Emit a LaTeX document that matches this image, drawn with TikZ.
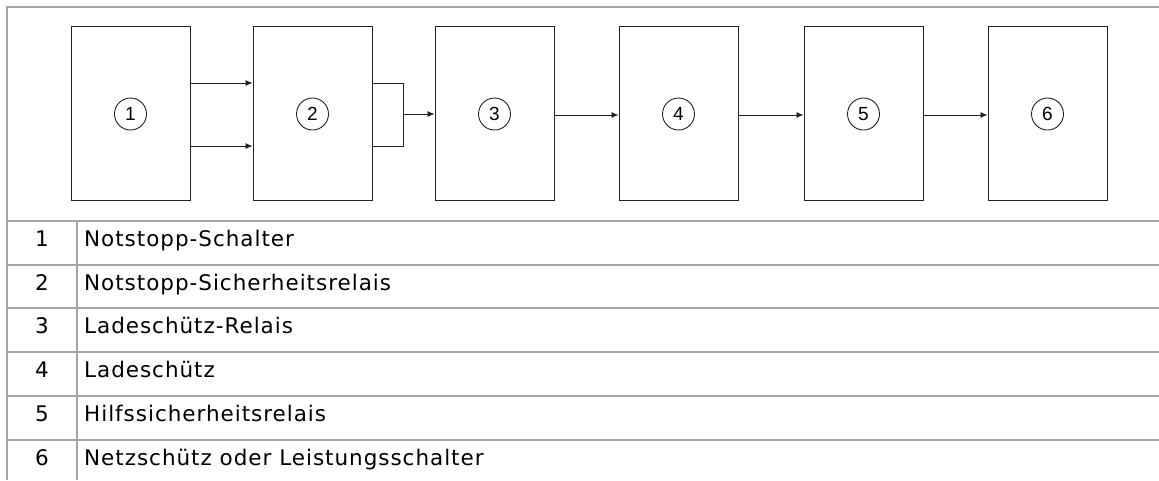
\documentclass[tikz,border=0pt]{standalone}
\usepackage{fontspec}
\setmainfont{DejaVu Sans}
\newfontfamily\circfont{Liberation Sans}
\newfontfamily\tabfont[LetterSpace=4.5]{DejaVu Sans}
\usetikzlibrary{arrows.meta,calc}
\definecolor{gridgrey}{HTML}{A4A4A4}
\definecolor{boxline}{HTML}{222222}
\tikzset{
  blockbox/.style={draw=boxline, line width=1pt, minimum width=119pt, minimum height=174pt, inner sep=0pt},
  numcirc/.style={draw=boxline, line width=0.9pt, circle, minimum size=32pt, inner sep=0pt, font=\circfont\fontsize{19}{19}\selectfont},
  conn/.style={draw=boxline, line width=0.9pt, -{Latex[length=7pt,width=6pt]}},
  plainconn/.style={draw=boxline, line width=0.9pt},
  gridline/.style={draw=gridgrey, line width=1.4pt},
  numtext/.style={anchor=base, inner sep=0pt, font=\tabfont\fontsize{21.5}{21.5}\selectfont},
  desctext/.style={anchor=base west, inner sep=0pt, font=\tabfont\fontsize{21.5}{21.5}\selectfont},
}
\begin{document}
\begin{tikzpicture}[x=1pt, y=-1pt]
\useasboundingbox (0,0) rectangle (1159,480);
\fill[white] (0,0) rectangle (1159,480);
% table grid
\draw[gridline] (1159,7) -- (7,7) -- (7,480);
\foreach \yy in {221,265,308,352,396,440} \draw[gridline] (7,\yy) -- (1159,\yy);
\draw[gridline] (77,221) -- (77,480);
% blocks
\foreach \i/\cx in {1/130.5,2/312.5,3/494.5,4/678.5,5/863.5,6/1047.5}{
  \node[blockbox] (b\i) at (\cx,113) {};
  \node[numcirc] (c\i) at (\cx,114) {\i};
}
% connectors
\draw[conn] ([yshift=30pt]b1.east) -- ([yshift=30pt]b2.west);
\draw[conn] ([yshift=-33pt]b1.east) -- ([yshift=-33pt]b2.west);
\coordinate (j) at (403,114);
\draw[plainconn] ([yshift=30pt]b2.east) -| (j);
\draw[plainconn] ([yshift=-33pt]b2.east) -| (j);
\draw[conn] (j) -- (j -| b3.west);
\draw[conn] ([yshift=-2pt]b3.east) -- ([yshift=-2pt]b4.west);
\draw[conn] ([yshift=-2pt]b4.east) -- ([yshift=-2pt]b5.west);
\draw[conn] ([yshift=-2pt]b5.east) -- ([yshift=-2pt]b6.west);
% legend
\foreach \i/\yb/\txt in {1/246.5/Notstopp-Schalter,2/290/Notstopp-Sicherheitsrelais,3/333.5/Ladeschütz-Relais,4/377.5/Ladeschütz,5/421/Hilfssicherheitsrelais,6/465/Netzschütz oder Leistungsschalter}{
  \node[numtext] (n\i) at (42,\yb) {\i};
  \node[desctext] (t\i) at (84,\yb) {\txt};
}
\end{tikzpicture}
\end{document}
